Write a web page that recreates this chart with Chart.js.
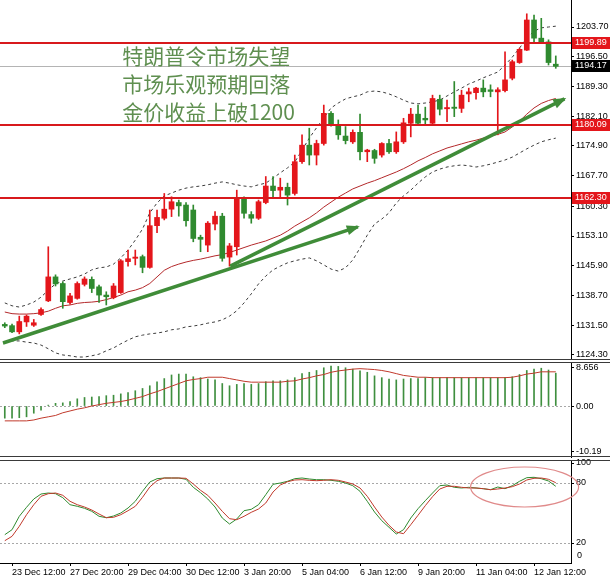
<!DOCTYPE html>
<html lang="zh">
<head>
<meta charset="UTF-8">
<title>XAUUSD H4</title>
<script src="https://cdn.jsdelivr.net/npm/chart.js@4.4.1/dist/chart.umd.min.js"></script>
<style>
  html, body { margin: 0; padding: 0; background: #fff; }
  #wrap { position: relative; width: 610px; height: 578px; overflow: hidden; background: #fff; }
  canvas { position: absolute; left: 0; }
  #main { top: 0; }
  #macd { top: 360px; }
  #stoch { top: 458px; }
</style>
</head>
<body>
<div id="wrap">
  <canvas id="main" width="610" height="360"></canvas>
  <canvas id="macd" width="610" height="98"></canvas>
  <canvas id="stoch" width="610" height="120"></canvas>
</div>
<script>
// ---- candles (H4) ----
const opens = [1131.7,1131.4,1129.9,1132.3,1131.5,1134.1,1137.4,1143.2,1141.6,1137.0,
  1138.0,1141.4,1142.6,1140.8,1138.8,1138.2,1139.4,1146.9,1147.7,1148.1,
  1145.5,1155.6,1157.4,1159.6,1161.2,1160.6,1159.4,1152.8,1150.9,1156.0,
  1157.9,1148.0,1150.5,1162.2,1158.3,1157.4,1161.2,1165.2,1164.2,1164.9,
  1163.4,1171.1,1175.1,1172.7,1175.5,1182.8,1180.0,1177.3,1175.9,1178.2,
  1173.5,1173.8,1172.7,1175.5,1173.5,1175.9,1180.4,1182.6,1181.6,1180.4,
  1186.2,1183.9,1184.3,1184.0,1187.5,1187.8,1188.9,1188.5,1188.0,1188.3,
  1191.3,1195.1,1198.1,1205.4,1201.0,1200.1,1194.7];
const highs = [1132.1,1131.8,1133.7,1134.0,1132.9,1135.7,1150.5,1143.7,1142.0,1139.2,
  1142.0,1143.2,1143.2,1141.2,1139.6,1141.6,1147.4,1149.7,1149.7,1148.5,
  1159.4,1159.4,1163.4,1162.6,1161.8,1161.2,1160.6,1153.3,1156.6,1159.0,
  1158.6,1151.3,1164.2,1162.6,1159.0,1161.8,1167.5,1167.5,1167.1,1165.9,
  1172.7,1177.6,1179.2,1176.3,1184.8,1183.2,1181.2,1179.6,1178.8,1182.6,
  1174.1,1174.1,1175.7,1176.5,1178.3,1181.6,1184.0,1184.8,1184.3,1187.2,
  1187.2,1186.0,1190.5,1188.4,1188.9,1189.1,1190.9,1189.7,1189.0,1197.7,
  1195.7,1198.6,1206.9,1206.6,1205.8,1200.6,1196.7];
const lows = [1130.9,1129.7,1129.4,1131.2,1131.2,1133.9,1137.2,1141.0,1135.6,1136.6,
  1137.8,1141.0,1139.4,1137.0,1136.4,1137.9,1139.2,1145.8,1146.1,1144.2,
  1145.3,1153.9,1157.0,1157.8,1157.9,1155.5,1151.7,1149.3,1149.3,1154.6,
  1147.0,1145.8,1148.5,1157.4,1156.2,1157.1,1160.9,1162.6,1162.2,1160.6,
  1163.0,1170.7,1170.3,1170.3,1175.1,1179.7,1176.5,1175.4,1175.5,1171.5,
  1171.1,1170.7,1172.2,1173.1,1173.1,1175.5,1177.1,1180.0,1180.2,1180.0,
  1182.4,1180.8,1182.0,1183.0,1185.6,1186.2,1186.8,1186.8,1177.6,1188.0,
  1190.9,1194.9,1198.0,1200.1,1199.8,1194.5,1193.7];
const closes = [1131.3,1129.9,1132.4,1133.7,1132.1,1135.3,1143.2,1141.5,1137.2,1138.6,
  1141.6,1142.7,1140.4,1138.8,1138.4,1141.0,1147.1,1147.6,1148.0,1145.5,
  1155.6,1157.6,1159.6,1161.4,1160.4,1156.8,1152.5,1152.3,1156.2,1157.9,
  1147.7,1150.7,1162.2,1158.6,1157.4,1161.4,1165.2,1164.1,1164.9,1163.0,
  1171.1,1175.1,1172.7,1175.5,1182.8,1180.2,1177.6,1176.2,1178.2,1173.5,
  1173.9,1171.9,1175.5,1173.5,1175.9,1180.5,1182.6,1180.4,1181.2,1186.4,
  1183.8,1184.2,1184.0,1187.2,1188.0,1188.9,1188.0,1188.1,1188.5,1190.9,
  1195.3,1198.3,1205.4,1201.0,1199.9,1195.1,1194.17];

// moving average (red) and the two dashed bands
const ma = [1134.7,1134.3,1134.2,1134.2,1134.3,1134.5,1134.9,1135.6,1136.2,1136.4,
  1136.8,1137.0,1137.1,1137.3,1137.7,1138.2,1138.8,1139.6,1140.0,1140.6,
  1141.6,1143.2,1144.8,1145.7,1146.3,1146.8,1147.2,1147.5,1147.9,1148.3,
  1148.6,1149.1,1149.7,1150.3,1150.9,1151.4,1151.9,1152.6,1153.3,1154.3,
  1155.5,1156.5,1157.5,1158.7,1160.1,1161.3,1162.5,1163.5,1164.5,1165.2,
  1165.9,1166.5,1167.2,1167.9,1168.6,1169.4,1170.3,1171.3,1172.1,1173.0,
  1173.7,1174.4,1174.9,1175.4,1175.9,1176.3,1176.8,1177.3,1177.7,1178.3,
  1179.5,1180.9,1182.6,1184.1,1185.2,1185.9,1186.4];
const bandUp = [1136.9,1136.2,1135.9,1136.4,1137.1,1138.3,1140.0,1141.5,1142.2,1142.7,
  1143.2,1143.9,1144.9,1145.4,1145.6,1146.3,1147.8,1149.7,1152.1,1154.8,
  1158.7,1161.1,1162.8,1163.5,1164.2,1164.7,1165.0,1165.2,1165.5,1165.9,
  1166.2,1165.9,1165.5,1165.2,1165.0,1165.5,1165.9,1167.1,1168.4,1169.6,
  1171.0,1173.9,1176.8,1179.3,1181.7,1184.1,1185.3,1186.3,1186.8,1187.2,
  1188.0,1188.2,1188.0,1187.5,1186.8,1186.0,1185.3,1185.1,1185.3,1185.6,
  1186.0,1187.0,1188.0,1188.9,1189.9,1190.6,1191.4,1192.1,1192.8,1194.5,
  1196.4,1198.6,1201.0,1202.7,1203.5,1203.7,1203.9];
const bandLow = [1127.4,1127.7,1127.7,1127.4,1127.2,1126.7,1125.8,1124.8,1124.3,1124.1,
  1123.8,1123.8,1124.1,1124.5,1125.3,1126.0,1127.0,1127.9,1128.7,1129.1,
  1129.4,1129.6,1129.9,1130.4,1130.6,1131.1,1131.3,1131.6,1132.0,1132.3,
  1132.8,1133.7,1135.0,1136.9,1139.1,1141.5,1143.4,1144.9,1145.8,1146.6,
  1147.1,1147.5,1147.8,1147.1,1146.1,1145.1,1144.6,1145.4,1147.3,1150.2,
  1153.3,1156.0,1157.2,1158.7,1161.1,1162.8,1164.2,1165.9,1167.4,1168.6,
  1169.3,1169.8,1170.1,1170.3,1170.1,1169.8,1170.1,1170.5,1171.0,1171.5,
  1172.2,1173.2,1174.2,1175.1,1175.9,1176.4,1176.8];

// MACD panel
const macdHist = [-2.7,-2.7,-2.6,-2.4,-1.6,-0.9,0.2,0.6,0.7,1.0,
  1.6,1.9,2.0,2.1,2.3,2.4,2.7,3.0,3.4,3.9,
  4.5,5.4,6.1,6.9,7.1,7.1,6.5,6.3,6.0,5.8,
  5.0,4.5,4.8,5.0,4.8,5.0,5.4,5.6,5.6,5.8,
  6.3,7.2,7.5,7.9,8.5,8.9,8.8,8.5,8.2,7.8,
  7.5,6.7,6.3,6.0,5.8,6.0,6.1,6.1,6.3,6.3,
  6.3,6.3,6.3,6.3,6.3,6.3,6.3,6.3,6.3,6.3,
  6.5,7.0,7.9,8.2,8.4,8.0,7.3];
const macdSignal = [-3.3,-3.3,-3.3,-3.3,-3.1,-2.7,-2.4,-2.1,-1.5,-1.1,
  -0.7,-0.4,0.0,0.3,0.6,0.8,1.0,1.3,1.7,2.1,
  2.7,3.2,3.8,4.4,5.0,5.6,5.9,6.1,6.4,6.4,
  6.4,6.1,5.8,5.5,5.3,5.3,5.3,5.3,5.3,5.5,
  5.6,6.0,6.3,6.7,7.0,7.5,7.8,8.0,8.2,8.3,
  8.2,8.1,7.9,7.6,7.2,6.8,6.6,6.4,6.4,6.3,
  6.3,6.3,6.3,6.3,6.3,6.3,6.3,6.3,6.3,6.3,
  6.4,6.7,7.1,7.3,7.6,7.6,7.6];

// Stochastic panel
const stochK = [28.3,33.3,46.7,55.7,64.0,69.0,70.0,69.3,65.3,58.3,
  56.7,54.7,51.7,46.7,45.3,47.0,50.0,55.0,61.7,71.7,
  81.0,84.3,85.0,85.0,85.0,83.7,75.7,70.3,64.0,56.0,
  45.0,39.0,44.0,52.3,53.7,58.3,68.3,78.7,80.0,81.7,
  84.3,85.0,84.0,83.3,83.3,82.7,81.7,80.0,77.3,71.7,
  61.7,51.0,42.3,35.7,29.0,33.3,45.0,54.3,62.3,70.0,
  77.3,78.0,75.7,75.0,75.7,75.0,74.3,73.3,76.0,74.3,
  77.3,81.7,85.3,85.7,84.3,82.0,76.7];
const stochD = [22.3,26.7,36.7,48.3,58.3,66.7,69.3,70.0,67.7,61.7,
  58.3,56.0,53.0,49.0,45.3,45.7,48.3,52.3,56.7,65.7,
  76.0,82.3,85.0,85.0,85.0,84.7,79.0,72.7,67.7,60.0,
  51.7,44.3,43.3,46.7,50.7,54.0,60.0,71.0,78.0,81.3,
  83.0,83.3,82.7,82.3,82.7,83.3,82.7,81.0,79.0,75.0,
  66.7,56.0,46.0,37.7,31.0,29.3,38.3,47.7,57.3,66.3,
  74.0,76.7,76.7,75.7,75.0,75.0,74.3,73.3,74.0,75.0,
  76.3,79.0,83.0,84.7,85.0,83.7,80.3];

// axes
const priceTicks = [1124.30,1131.50,1138.70,1145.90,1153.10,1160.30,1167.70,1174.90,1182.10,1189.30,1196.50,1203.70];
const macdTicks = [8.656, 0, -10.19];
const macdTickText = ['8.656', '0.00', '-10.19'];
const stochTicks = [100, 80, 20];
const stochFloor = 0;
const timeIdx = [1, 9, 17, 25, 33, 41, 49, 57, 65, 73];
const timeLabels = ['23 Dec 12:00','27 Dec 20:00','29 Dec 04:00','30 Dec 12:00','3 Jan 20:00',
  '5 Jan 04:00','6 Jan 12:00','9 Jan 20:00','11 Jan 04:00','12 Jan 12:00'];

// drawn objects: levels, trend arrows (bar index, price), note text
const levelsRed = [1199.89, 1180.09, 1162.30];
const bidPrice = 1194.17;
const trendShort = [[-0.25, 1127.2], [48.7, 1155.3]];
const trendLong = [[31.1, 1145.8], [77.2, 1186.3]];
const noteLines = ['特朗普令市场失望', '市场乐观预期回落', '金价收益上破1200'];

const RED = '#e4161b', GREEN = '#2f8a2f', ARROW = '#3f8c38';
const X_MIN = -0.66, X_MAX = 78.1, AXIS_W = 39;
const AXIS_FONT = "9px 'Liberation Sans', Arial, sans-serif";

Chart.defaults.font.family = "'Liberation Sans', Arial, sans-serif";
Chart.defaults.font.size = 9;
Chart.defaults.color = '#000';

const idx = closes.map((_, i) => i);
const xy = arr => arr.map((v, i) => ({x: i, y: v}));
const pts = arr => arr.map(p => ({x: p[0], y: p[1]}));
const candleCol = closes.map((c, i) => c >= opens[i] ? RED : GREEN);

function yAxis(min, max, ticks, fmt) {
  return {
    position: 'right', min: min, max: max,
    afterBuildTicks: s => { s.ticks = ticks.map(v => ({value: v})); },
    afterFit: s => { s.width = AXIS_W; s.paddingTop = 0; s.paddingBottom = 0; },
    border: {display: true, color: '#000'},
    grid: {drawOnChartArea: false, tickLength: 3, color: '#000'},
    ticks: {padding: 2, autoSkip: false, callback: fmt}
  };
}
const xHidden = {type: 'linear', min: X_MIN, max: X_MAX, offset: false, display: false};

// borders between panes, price tags on the axis, edge label
const panePlugin = {
  id: 'pane',
  afterDraw(chart, args, o) {
    const {ctx, chartArea: a} = chart;
    const ys = chart.scales.y;
    ctx.save();
    ctx.strokeStyle = '#3a3a3a';
    ctx.lineWidth = 1;
    if (o.top) { ctx.beginPath(); ctx.moveTo(0, a.top - 0.5); ctx.lineTo(chart.width, a.top - 0.5); ctx.stroke(); }
    if (o.bottom) { ctx.beginPath(); ctx.moveTo(0, a.bottom - 0.5); ctx.lineTo(chart.width, a.bottom - 0.5); ctx.stroke(); }
    ctx.font = AXIS_FONT;
    ctx.textAlign = 'left';
    ctx.textBaseline = 'middle';
    (o.tags || []).forEach(t => {
      const y = Math.round(ys.getPixelForValue(t.value));
      ctx.fillStyle = t.bg;
      ctx.fillRect(a.right + 1, y - 6, chart.width - a.right, 12);
      ctx.fillStyle = '#fff';
      ctx.fillText(t.value.toFixed(2), a.right + 4, y);
    });
    if (o.floorLabel !== undefined) {
      // level sitting on the pane edge: label kept inside the pane, as the terminal does
      const y = Math.min(ys.getPixelForValue(o.floorLabel), a.bottom - 7);
      ctx.fillStyle = '#000';
      ctx.fillText(String(o.floorLabel), a.right + 6, y);
    }
    ctx.restore();
  }
};

// horizontal levels, arrow heads, note text, ellipse
const overlayPlugin = {
  id: 'overlay',
  beforeDatasetsDraw(chart, args, o) {
    const {ctx, chartArea: a, scales: {y}} = chart;
    ctx.save();
    (o.under || []).forEach(h => {
      const py = Math.round(y.getPixelForValue(h.value)) + 0.5;
      ctx.strokeStyle = h.color; ctx.lineWidth = 1; ctx.setLineDash(h.dash || []);
      ctx.beginPath(); ctx.moveTo(a.left, py); ctx.lineTo(a.right, py); ctx.stroke();
    });
    ctx.restore();
  },
  afterDatasetsDraw(chart, args, o) {
    const {ctx, chartArea: a, scales: {x, y}} = chart;
    ctx.save();
    (o.over || []).forEach(h => {
      const py = Math.round(y.getPixelForValue(h.value));
      ctx.strokeStyle = h.color; ctx.lineWidth = h.width;
      ctx.beginPath(); ctx.moveTo(a.left, py); ctx.lineTo(a.right, py); ctx.stroke();
    });
    chart.data.datasets.forEach((ds, i) => {
      if (!ds.arrowHead) return;
      const d = chart.getDatasetMeta(i).data;
      const p1 = d[d.length - 2], p2 = d[d.length - 1];
      const ang = Math.atan2(p2.y - p1.y, p2.x - p1.x);
      ctx.fillStyle = ds.borderColor;
      ctx.beginPath();
      ctx.moveTo(p2.x + 2 * Math.cos(ang), p2.y + 2 * Math.sin(ang));
      ctx.lineTo(p2.x - 11 * Math.cos(ang) + 5 * Math.sin(ang), p2.y - 11 * Math.sin(ang) - 5 * Math.cos(ang));
      ctx.lineTo(p2.x - 11 * Math.cos(ang) - 5 * Math.sin(ang), p2.y - 11 * Math.sin(ang) + 5 * Math.cos(ang));
      ctx.closePath();
      ctx.fill();
    });
    if (o.note) {
      ctx.font = "21px 'Noto Sans CJK SC', sans-serif";
      ctx.fillStyle = o.note.color;
      ctx.textAlign = 'left';
      ctx.textBaseline = 'middle';
      const px = x.getPixelForValue(o.note.x);
      o.note.lines.forEach((t, k) => ctx.fillText(t, px, y.getPixelForValue(o.note.y[k])));
    }
    if (o.ellipse) {
      const e = o.ellipse;
      ctx.strokeStyle = e.color; ctx.lineWidth = 1.2;
      ctx.beginPath();
      ctx.ellipse(x.getPixelForValue(e.x), y.getPixelForValue(e.y), e.rx, e.ry, 0, 0, Math.PI * 2);
      ctx.stroke();
    }
    ctx.restore();
  }
};

const common = {
  responsive: false, animation: false, events: [], devicePixelRatio: 1
};

new Chart(document.getElementById('main'), {
  type: 'bar',
  data: {
    datasets: [
      {type: 'line', data: pts(trendShort), borderColor: ARROW, borderWidth: 3.5, pointRadius: 0, order: 0, arrowHead: true},
      {type: 'line', data: pts(trendLong), borderColor: ARROW, borderWidth: 3.5, pointRadius: 0, order: 0, arrowHead: true},
      {data: idx.map(i => ({x: i, y: [opens[i], closes[i]]})), backgroundColor: candleCol,
        barThickness: 5, minBarLength: 1, grouped: false, order: 1},
      {data: idx.map(i => ({x: i, y: [lows[i], highs[i]]})), backgroundColor: candleCol,
        barThickness: 1, grouped: false, order: 2},
      {type: 'line', data: xy(ma), borderColor: '#b3282a', borderWidth: 1, pointRadius: 0, order: 3},
      {type: 'line', data: xy(bandUp), borderColor: '#3c3c3c', borderWidth: 1, borderDash: [3, 3], pointRadius: 0, order: 4},
      {type: 'line', data: xy(bandLow), borderColor: '#3c3c3c', borderWidth: 1, borderDash: [3, 3], pointRadius: 0, order: 4}
    ]
  },
  options: {
    ...common,
    layout: {padding: 0},
    scales: {
      x: xHidden,
      y: yAxis(1123.08, 1210.24, priceTicks, v => v.toFixed(2))
    },
    plugins: {
      legend: {display: false}, tooltip: {enabled: false},
      overlay: {
        under: [{value: bidPrice, color: '#b4b4b4'}],
        over: levelsRed.map(v => ({value: v, color: '#d8191c', width: 2})),
        note: {lines: noteLines, x: 16.2, y: [1196.7, 1189.9, 1183.1], color: '#5f8f50'}
      },
      pane: {
        bottom: true,
        tags: levelsRed.map(v => ({value: v, bg: RED})).concat([{value: bidPrice, bg: '#000'}])
      }
    }
  },
  plugins: [overlayPlugin, panePlugin]
});

new Chart(document.getElementById('macd'), {
  type: 'bar',
  data: {
    datasets: [
      {type: 'line', data: xy(macdSignal), borderColor: '#c0392b', borderWidth: 1, pointRadius: 0, order: 0},
      {data: xy(macdHist), backgroundColor: '#3f8f3f', barThickness: 1, grouped: false, order: 1}
    ]
  },
  options: {
    ...common,
    layout: {padding: {top: 3, bottom: 1}},
    scales: {
      x: xHidden,
      y: yAxis(-11.33, 9.56, macdTicks, v => macdTickText[macdTicks.indexOf(v)])
    },
    plugins: {
      legend: {display: false}, tooltip: {enabled: false},
      overlay: {under: [{value: 0, color: '#a8a8a8', dash: [2, 2]}]},
      pane: {top: true, bottom: true}
    }
  },
  plugins: [overlayPlugin, panePlugin]
});

new Chart(document.getElementById('stoch'), {
  type: 'line',
  data: {
    datasets: [
      {data: xy(stochD), borderColor: '#c0392b', borderWidth: 1, pointRadius: 0},
      {data: xy(stochK), borderColor: '#2f8a2f', borderWidth: 1, pointRadius: 0}
    ]
  },
  options: {
    ...common,
    layout: {padding: {top: 3}},
    scales: {
      x: {
        type: 'linear', min: X_MIN, max: X_MAX, offset: false,
        afterBuildTicks: s => { s.ticks = timeIdx.map(v => ({value: v})); },
        afterFit: s => { s.height = 15; s.paddingLeft = 0; s.paddingRight = 0; },
        border: {display: true, color: '#000'},
        grid: {drawOnChartArea: false, tickLength: 3, color: '#000'},
        ticks: {autoSkip: false, maxRotation: 0, align: 'start', padding: 1,
          callback: v => timeLabels[timeIdx.indexOf(v)]}
      },
      y: yAxis(0, 102, stochTicks, v => String(v))
    },
    plugins: {
      legend: {display: false}, tooltip: {enabled: false},
      overlay: {
        under: [{value: 80, color: '#a8a8a8', dash: [2, 2]}, {value: 20, color: '#a8a8a8', dash: [2, 2]}],
        ellipse: {x: 71.7, y: 76, rx: 54, ry: 20, color: '#e08a8a'}
      },
      pane: {top: true, floorLabel: stochFloor}
    }
  },
  plugins: [overlayPlugin, panePlugin]
});
</script>
</body>
</html>
